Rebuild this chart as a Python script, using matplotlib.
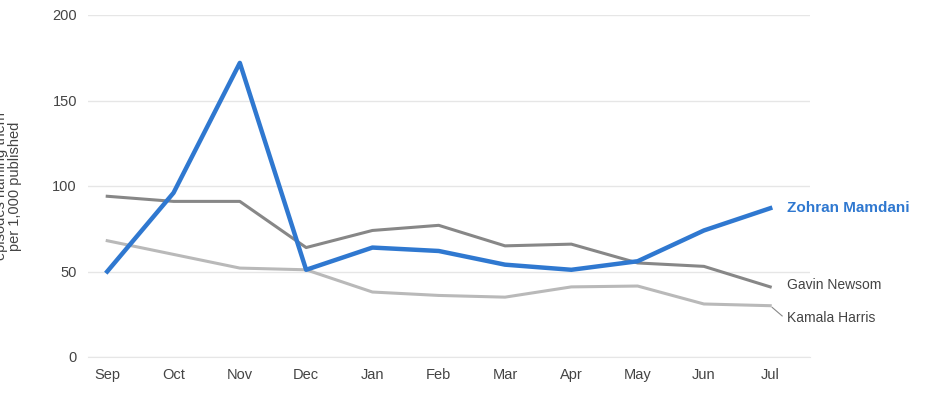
import matplotlib
matplotlib.use("Agg")
import matplotlib.pyplot as plt
plt.rcParams['font.family'] = ['Liberation Sans', 'DejaVu Sans']

months = ["Sep","Oct","Nov","Dec","Jan","Feb","Mar","Apr","May","Jun","Jul"]
mamdani = [50, 96, 172, 51, 64, 62, 54, 51, 56, 74, 87]
newsom = [94, 91, 91, 64, 74, 77, 65, 66, 55, 53, 41]
harris = [68, 60, 52, 51, 38, 36, 35, 41, 41.5, 31, 30]

fig = plt.figure(figsize=(9.26, 4.01), dpi=100)
ax = fig.add_axes([88/926, 1-357/401, 722/926, 342/401])
x = list(range(len(months)))
ax.plot(x, harris, color="#b9b9b9", lw=2.2)
ax.plot(x, newsom, color="#878787", lw=2.2)
ax.plot(x, mamdani, color="#2f78d0", lw=3.2)
ax.set_xlim(-0.29, 10.6)
ax.set_ylim(0, 200)
ax.set_yticks([0, 50, 100, 150, 200])
ax.set_xticks(x)
ax.set_xticklabels(months)
ax.grid(axis="y", color="#e6e6e6", lw=1)
ax.set_axisbelow(True)
for s in ["top", "right", "left"]:
    ax.spines[s].set_visible(False)
ax.spines["bottom"].set_color("#e6e6e6")
ax.tick_params(length=0, labelsize=10.5, colors="#444444", pad=8)
ax.set_ylabel("episodes naming them\nper 1,000 published", fontsize=10.5, color="#444444", labelpad=22, linespacing=1.0)
ax.text(10.25, mamdani[-1], "Zohran Mamdani", color="#2f78d0", fontsize=11, fontweight="bold", va="center", clip_on=False)
ax.text(10.25, newsom[-1]+1, "Gavin Newsom", color="#444444", fontsize=10, va="center", clip_on=False)
ax.plot([10.03, 10.18], [harris[-1]-1, harris[-1]-6], color="#888888", lw=0.8, clip_on=False)
ax.text(10.25, harris[-1]-7, "Kamala Harris", color="#444444", fontsize=10, va="center", clip_on=False)
fig.savefig("out.png", dpi=100)
